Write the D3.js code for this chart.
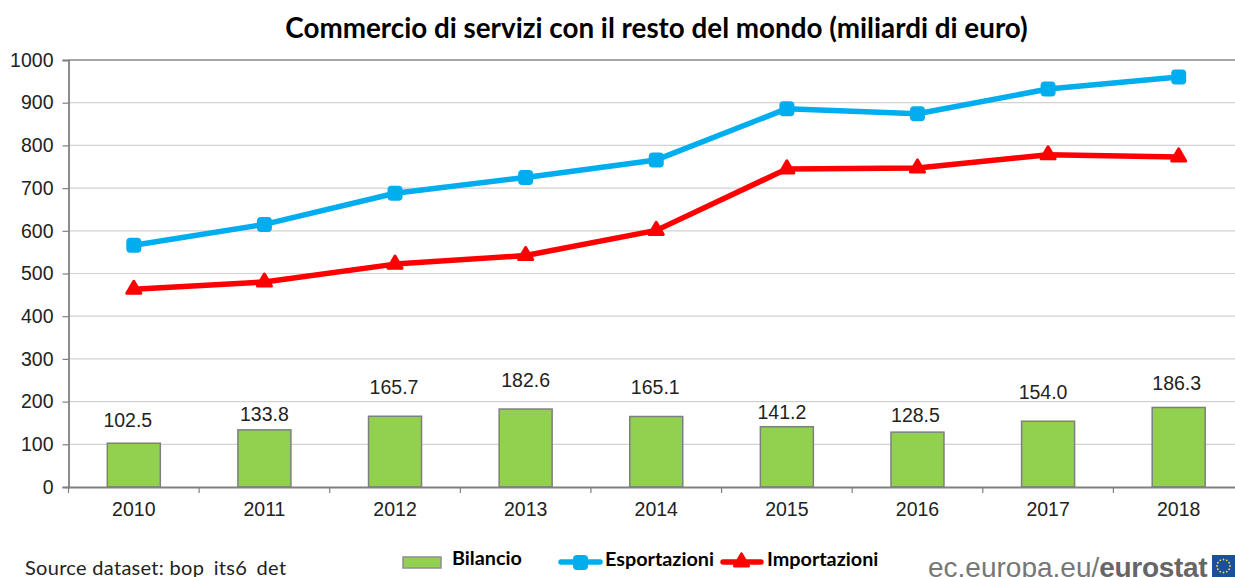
<!DOCTYPE html>
<html>
<head>
<meta charset="utf-8">
<script src="https://cdn.jsdelivr.net/npm/d3@7"></script>
<style>
    html, body { margin: 0; padding: 0; background: #fff; overflow: hidden; }
    svg { display: block; }
    text { font-family: "Liberation Sans", Arial, sans-serif; fill: #222; }
    .calibri { font-family: Lato, "Open Sans", sans-serif; }
</style>
</head>
<body>
<svg id="chart" width="1235" height="577"></svg>
<script>
const years = ["2010", "2011", "2012", "2013", "2014", "2015", "2016", "2017", "2018"];
const bilancio = [102.5, 133.8, 165.7, 182.6, 165.1, 141.2, 128.5, 154.0, 186.3];
const esportazioni = [566, 615, 688, 725, 766, 886, 874, 932, 960];
const importazioni = [463, 480, 522, 542, 601, 745, 747, 778, 773];
const yticks = [0, 100, 200, 300, 400, 500, 600, 700, 800, 900, 1000];

// the labels in the picture don't sit at a constant distance from their bars
const labelLift = [16, 9, 22, 22, 23, 8, 10, 22, 18];
const labelShift = [-6, 0, -1, 0, -1, -5, -2, -5, -2];

const margin = { left: 68.5, top: 60, bottom: 487 };
const plotRight = 1244;

const svg = d3.select("#chart");

const xscale = d3.scaleBand()
    .domain(years)
    .range([margin.left, plotRight]);

const yscale = d3.scaleLinear()
    .domain([0, 1000])
    .range([margin.bottom, margin.top]);

// grid
svg.append("g")
    .selectAll("line")
    .data(yticks.filter(d => d > 0))
    .join("line")
    .attr("x1", margin.left)
    .attr("x2", plotRight)
    .attr("y1", d => yscale(d))
    .attr("y2", d => yscale(d))
    .attr("stroke", d => d === 1000 ? "#8a8a8a" : "#d2d2d2")
    .attr("stroke-width", d => d === 1000 ? 1.5 : 1.2);

// bars
const barWidth = 53;
svg.append("g")
    .selectAll("rect")
    .data(bilancio)
    .join("rect")
    .attr("x", (d, i) => xscale(years[i]) + xscale.bandwidth() / 2 - barWidth / 2)
    .attr("y", d => yscale(d))
    .attr("width", barWidth)
    .attr("height", d => yscale(0) - yscale(d))
    .attr("fill", "#92d050")
    .attr("stroke", "#7f7f7f")
    .attr("stroke-width", 1.5);

// axes
const yaxis = d3.axisLeft(yscale)
    .tickValues(yticks)
    .tickFormat(d3.format("d"))
    .tickSize(6)
    .tickPadding(9);

const xaxis = d3.axisBottom(xscale)
    .tickSize(0)
    .tickPadding(15);

const yaxisGroup = svg.append("g")
    .attr("transform", `translate(${margin.left}, 0)`)
    .call(yaxis);

const xaxisGroup = svg.append("g")
    .attr("transform", `translate(0, ${margin.bottom})`)
    .call(xaxis);

yaxisGroup.selectAll("text").attr("font-size", 19.5);
xaxisGroup.selectAll("text").attr("font-size", 19.5);

svg.selectAll(".domain")
    .attr("stroke", "#808080")
    .attr("stroke-width", 1.8);
yaxisGroup.selectAll(".tick line")
    .attr("stroke", "#808080")
    .attr("stroke-width", 1.2);

// x ticks sit between the categories
svg.append("g")
    .selectAll("line")
    .data(years)
    .join("line")
    .attr("x1", d => xscale(d))
    .attr("x2", d => xscale(d))
    .attr("y1", margin.bottom)
    .attr("y2", margin.bottom + 6)
    .attr("stroke", "#808080")
    .attr("stroke-width", 1.2);

// bar labels
svg.append("g")
    .selectAll("text")
    .data(bilancio)
    .join("text")
    .attr("x", (d, i) => xscale(years[i]) + xscale.bandwidth() / 2 + labelShift[i])
    .attr("y", (d, i) => yscale(d) - labelLift[i] + 7)
    .attr("dy", "-0.35em")
    .attr("text-anchor", "middle")
    .attr("font-size", 19.5)
    .text(d => d.toFixed(1));

// lines
const line = d3.line()
    .x((d, i) => xscale(years[i]) + xscale.bandwidth() / 2)
    .y(d => yscale(d));

const triangle = d3.symbol().type(d3.symbolTriangle).size(85);
const blue = "#00aeef";
const red = "#ff0000";

svg.append("path")
    .datum(esportazioni)
    .attr("fill", "none")
    .attr("stroke", blue)
    .attr("stroke-width", 5.5)
    .attr("stroke-linejoin", "round")
    .attr("d", line);

svg.append("g")
    .selectAll("rect")
    .data(esportazioni)
    .join("rect")
    .attr("x", (d, i) => xscale(years[i]) + xscale.bandwidth() / 2 - 7.5)
    .attr("y", d => yscale(d) - 7.5)
    .attr("width", 15)
    .attr("height", 15)
    .attr("rx", 4)
    .attr("fill", blue);

svg.append("path")
    .datum(importazioni)
    .attr("fill", "none")
    .attr("stroke", red)
    .attr("stroke-width", 5.5)
    .attr("stroke-linejoin", "round")
    .attr("d", line);

svg.append("g")
    .selectAll("path")
    .data(importazioni)
    .join("path")
    .attr("transform", (d, i) => `translate(${xscale(years[i]) + xscale.bandwidth() / 2}, ${yscale(d)})`)
    .attr("d", triangle)
    .attr("fill", red)
    .attr("stroke", red)
    .attr("stroke-width", 3)
    .attr("stroke-linejoin", "round");

// title
svg.append("text")
    .attr("class", "calibri")
    .attr("x", 656.5)
    .attr("y", 38)
    .attr("text-anchor", "middle")
    .attr("font-size", 27.8)
    .attr("font-weight", 700)
    .style("fill", "#000")
    .text("Commercio di servizi con il resto del mondo (miliardi di euro)");

// source
svg.append("text")
    .attr("class", "calibri")
    .attr("x", 25)
    .attr("y", 575)
    .attr("font-size", 20)
    .attr("letter-spacing", 0.3)
    .text("Source dataset:  bop_its6_det");

// legend
const legend = svg.append("g");

legend.append("rect")
    .attr("x", 403)
    .attr("y", 557)
    .attr("width", 38)
    .attr("height", 11)
    .attr("fill", "#92d050")
    .attr("stroke", "#8f8f8f")
    .attr("stroke-width", 1.5);

legend.append("line")
    .attr("x1", 561).attr("x2", 600)
    .attr("y1", 562).attr("y2", 562)
    .attr("stroke", blue)
    .attr("stroke-width", 5.5)
    .attr("stroke-linecap", "round");

legend.append("rect")
    .attr("x", 573).attr("y", 555)
    .attr("width", 15).attr("height", 15)
    .attr("rx", 4)
    .attr("fill", blue);

legend.append("line")
    .attr("x1", 723).attr("x2", 761)
    .attr("y1", 562).attr("y2", 562)
    .attr("stroke", red)
    .attr("stroke-width", 5.5)
    .attr("stroke-linecap", "round");

legend.append("path")
    .attr("transform", "translate(741.5, 562)")
    .attr("d", triangle)
    .attr("fill", red)
    .attr("stroke", red)
    .attr("stroke-width", 3)
    .attr("stroke-linejoin", "round");

legend.selectAll("text")
    .data([
        ["Bilancio", 452],
        ["Esportazioni", 605],
        ["Importazioni", 767]
    ])
    .join("text")
    .attr("class", "calibri")
    .attr("x", d => d[1])
    .attr("y", (d, i) => i === 0 ? 565 : 566)
    .attr("font-size", 19.8)
    .attr("font-weight", 700)
    .style("fill", "#000")
    .text(d => d[0]);

// eurostat logo, cut by the bottom edge like in the picture
const logo = svg.append("text")
    .attr("x", 928)
    .attr("y", 577)
    .attr("font-size", 28)
    .style("fill", "#777");
logo.append("tspan").text("ec.europa.eu/");
logo.append("tspan").attr("font-weight", 700).attr("letter-spacing", -0.3).style("fill", "#666").text("eurostat");

svg.append("rect")
    .attr("x", 1212).attr("y", 555)
    .attr("width", 23).attr("height", 22)
    .attr("fill", "#1a4f9c");

svg.append("g")
    .selectAll("circle")
    .data(d3.range(12))
    .join("circle")
    .attr("cx", d => 1223.5 + 6.5 * Math.cos(d * Math.PI / 6))
    .attr("cy", d => 566 + 6.5 * Math.sin(d * Math.PI / 6))
    .attr("r", 0.9)
    .attr("fill", "#e8e04a");
</script>
</body>
</html>
